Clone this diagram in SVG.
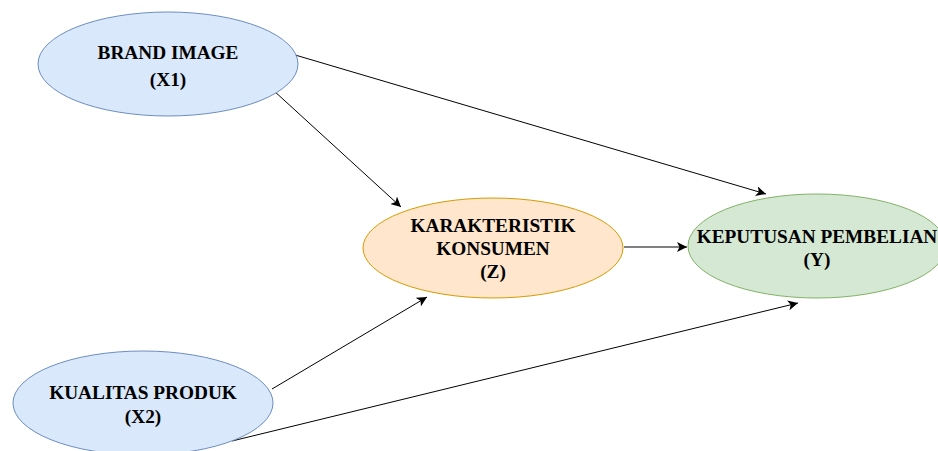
<svg xmlns="http://www.w3.org/2000/svg" width="938" height="451" viewBox="0 0 938 451">
<defs>
<marker id="arr" viewBox="0 0 10 10" refX="10" refY="5" markerWidth="10" markerHeight="10" markerUnits="userSpaceOnUse" orient="auto">
<path d="M0,0 L10,5 L0,10 L2.5,5 Z" fill="#000"/>
</marker>
<style>
.blue{fill:#dae8fc;stroke:#6c8ebf;stroke-width:1}
.orange{fill:#ffe6cc;stroke:#d79b00;stroke-width:1}
.green{fill:#d5e8d4;stroke:#82b366;stroke-width:1}
.lbl{font-family:"Liberation Serif","Times New Roman",serif;font-weight:bold;font-size:19.3px;fill:#000;text-anchor:middle}
.edge{stroke:#000;stroke-width:1;fill:none;marker-end:url(#arr)}
</style>
</defs>
<rect width="938" height="451" fill="#fff"/>
<g id="connectors">
<line class="edge" x1="273" y1="90" x2="401" y2="207"/>
<line class="edge" x1="285" y1="52" x2="766" y2="194"/>
<line class="edge" x1="624" y1="247" x2="687" y2="247"/>
<line class="edge" x1="272" y1="389" x2="427" y2="297"/>
<line class="edge" x1="232" y1="441" x2="798" y2="303"/>
</g>
<g id="brand-image">
<ellipse class="blue" cx="168" cy="64" rx="130" ry="52"/>
<text class="lbl" x="168" y="59">BRAND IMAGE</text>
<text class="lbl" x="168" y="86">(X1)</text>
</g>
<g id="karakteristik-konsumen">
<ellipse class="orange" cx="493" cy="248" rx="130" ry="50"/>
<text class="lbl" x="493" y="232">KARAKTERISTIK</text>
<text class="lbl" x="493" y="255">KONSUMEN</text>
<text class="lbl" x="493" y="278">(Z)</text>
</g>
<g id="keputusan-pembelian">
<ellipse class="green" cx="817" cy="246" rx="129" ry="52"/>
<text class="lbl" x="817" y="243">KEPUTUSAN PEMBELIAN</text>
<text class="lbl" x="817" y="266">(Y)</text>
</g>
<g id="kualitas-produk">
<ellipse class="blue" cx="143" cy="403" rx="130" ry="52"/>
<text class="lbl" x="143" y="399">KUALITAS PRODUK</text>
<text class="lbl" x="143" y="423">(X2)</text>
</g>
</svg>
